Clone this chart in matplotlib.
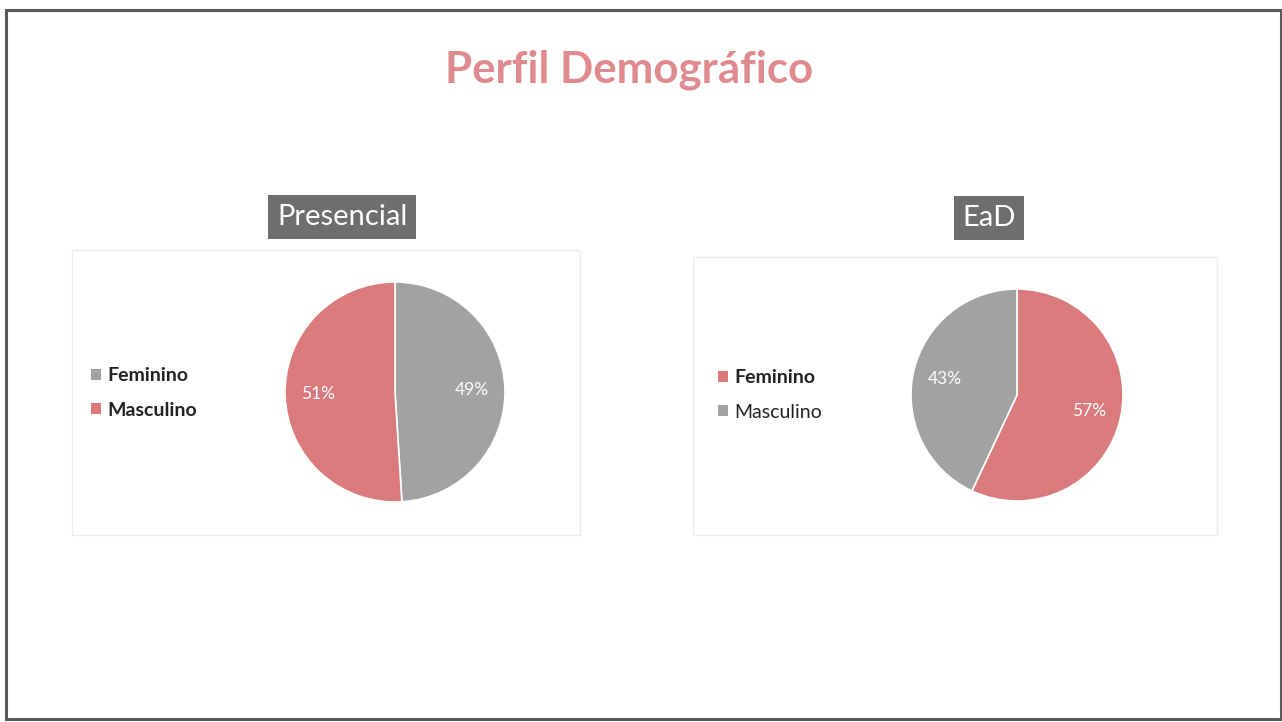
import matplotlib
matplotlib.use("Agg")
from matplotlib import pyplot as plt
from matplotlib.patches import Rectangle, Patch

plt.rcParams['font.family'] = ['Lato', 'DejaVu Sans']

titulo = "Perfil Demográfico"
categorias = ["Feminino", "Masculino"]
presencial = [49, 51]
ead = [57, 43]
cores_presencial = ["#a2a2a2", "#d97b7d"]
cores_ead = ["#d97b7d", "#a2a2a2"]

W, H = 1282, 722
fig = plt.figure(figsize=(W / 100, H / 100), dpi=100)
fig.patch.set_facecolor("white")

def fx(x):
    return x / W

def fy(y):
    return 1 - y / H

# moldura do slide
fig.patches.append(Rectangle((fx(6), fy(719)), fx(1281) - fx(6), fy(10) - fy(719),
                             transform=fig.transFigure, fill=False,
                             edgecolor="#5a5a5a", lw=2.2, zorder=-1))

# paineis dos graficos
for (x0, y0, x1, y1) in [(72, 250, 580, 535), (693, 257, 1217, 535)]:
    fig.patches.append(Rectangle((fx(x0), fy(y1)), fx(x1) - fx(x0), fy(y0) - fy(y1),
                                 transform=fig.transFigure, fill=False,
                                 edgecolor="#ececec", lw=1, zorder=-1))

fig.text(fx(629), fy(70), titulo, ha="center", va="center", fontsize=31.5,
         fontweight="bold", color="#de8a8f")


def grafico(valores, cores, cx, cy, r, rotulo, rx, ry, leg_x, leg_y, pesos):
    ax = fig.add_axes([fx(cx - r), fy(cy + r), fx(2 * r), fy(cy - r) - fy(cy + r)])
    ax.pie(valores, colors=cores, startangle=90, counterclock=False,
           autopct=lambda p: f"{p:.0f}%", pctdistance=0.7,
           wedgeprops=dict(edgecolor="white", linewidth=1.2),
           textprops=dict(color="white", fontsize=12.5))
    ax.set_xlim(-1, 1)
    ax.set_ylim(-1, 1)
    ax.set_aspect("equal")
    ax.axis("off")

    fig.text(fx(rx), fy(ry), rotulo, ha="center", va="center", fontsize=21,
             color="white",
             bbox=dict(boxstyle="square,pad=0.3", facecolor="#6e6e6e", edgecolor="none"))

    handles = [Patch(facecolor=c, edgecolor="none") for c in cores]
    leg = fig.legend(handles, categorias, loc="center left",
                     bbox_to_anchor=(fx(leg_x), fy(leg_y)), frameon=False,
                     fontsize=14, handlelength=0.5, handleheight=0.5,
                     handletextpad=0.35, labelspacing=0.9, borderpad=0, borderaxespad=0)
    for t, w in zip(leg.get_texts(), pesos):
        t.set_fontweight(w)
        t.set_color("#222222")


grafico(presencial, cores_presencial, 395, 392, 110, "Presencial", 342, 217,
        91, 393, ["bold", "bold"])
grafico(ead, cores_ead, 1017, 395, 106, "EaD", 989, 218,
        718, 395, ["bold", "normal"])

fig.savefig("out.png", dpi=100)
